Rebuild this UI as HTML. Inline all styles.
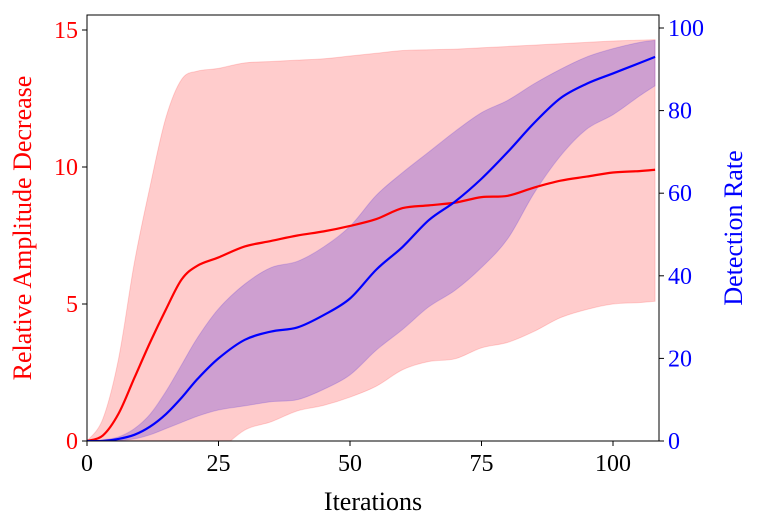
<!DOCTYPE html>
<html><head><meta charset="utf-8"><style>
html,body{margin:0;padding:0;background:#fff;}
svg{display:block;font-family:"Liberation Serif","DejaVu Serif",serif;}
</style></head><body>
<svg id="chart" width="761" height="528" viewBox="0 0 761 528"></svg>
<script>
const xs = [0,3,6,9,12,15,18,21,25,30,35,40,45,50,55,60,65,70,75,80,85,90,95,100,105,108];
const redMean = [0,0.2,1,2.3,3.6,4.8,5.9,6.4,6.7,7.1,7.3,7.5,7.65,7.85,8.1,8.5,8.6,8.7,8.9,8.95,9.25,9.5,9.65,9.8,9.85,9.9];
const redUpper = [0,0.8,3,6.5,9.3,11.8,13.2,13.5,13.6,13.8,13.85,13.9,13.95,14.05,14.15,14.25,14.28,14.3,14.35,14.4,14.45,14.5,14.55,14.6,14.63,14.65];
const redLower = [0,-0.3,-0.8,-1.2,-1.5,-1.6,-1.5,-1.2,-0.4,0.4,0.7,1.1,1.3,1.6,2.0,2.6,2.9,3.0,3.4,3.6,4.0,4.5,4.8,5.0,5.05,5.1];
const blueMean = [0,0,0.5,1.5,3.5,6.5,10.5,15,20,24.5,26.5,27.5,30.5,34.5,41.5,47,53.5,58,63.5,70,77,83,86.5,89,91.5,93];
const blueUpper = [0,0.3,1,3,6.5,12,18.5,25,32,38,42,43.5,47,52,59.5,65,70,75,79.5,82.5,86.5,90,93,95,96.5,97];
const blueLower = [0,0,0.1,0.5,1.5,3,4.5,6,7.5,8.5,9.5,10,12.5,16,22,27,32.5,36.5,42,49,60,69,75.5,79,83.5,86];
const xTicks = [0,25,50,75,100];
const yLTicks = [0,5,10,15];
const yRTicks = [0,20,40,60,80,100];

const L=87,R=659,T=15,B=441;
const X=v=>L+v*(613-87)/100;
const YL=v=>B-v*(441-30)/15;
const YR=v=>B-v*(441-28)/100;
const NS='http://www.w3.org/2000/svg';
const svg=document.getElementById('chart');
function mk(tag,attrs,parent){const e=document.createElementNS(NS,tag);for(const k in attrs)e.setAttribute(k,attrs[k]);(parent||svg).appendChild(e);return e;}
function curve(pts){let d='M'+pts[0][0]+','+pts[0][1];for(let i=0;i<pts.length-1;i++){const p0=pts[i-1]||pts[i],p1=pts[i],p2=pts[i+1],p3=pts[i+2]||p2;d+=' C'+(p1[0]+(p2[0]-p0[0])/6)+','+(p1[1]+(p2[1]-p0[1])/6)+' '+(p2[0]-(p3[0]-p1[0])/6)+','+(p2[1]-(p3[1]-p1[1])/6)+' '+p2[0]+','+p2[1];}return d;}
function band(up,lo,Y){const a=xs.map((x,i)=>[X(x),Y(up[i])]);const b=xs.map((x,i)=>[X(x),Y(lo[i])]).reverse();return curve(a)+' L'+b[0][0]+','+b[0][1]+curve(b).replace(/^M[^ ]+/,'')+' Z';}
const defs=mk('defs',{});const cp=mk('clipPath',{id:'clip'},defs);mk('rect',{x:L,y:T,width:R-L,height:B-T},cp);
const g=mk('g',{'clip-path':'url(#clip)'});
let e;
e=mk('path',{d:band(redUpper,redLower,YL),fill:'#ff0000','fill-opacity':0.2,stroke:'#ff0000','stroke-opacity':0.15},g);

e=mk('path',{d:band(blueUpper,blueLower,YR),fill:'#2000e0','fill-opacity':0.22,stroke:'#2000e0','stroke-opacity':0.15},g);

e=mk('path',{d:curve(xs.map((x,i)=>[X(x),YL(redMean[i])])),fill:'none',stroke:'#ff0000','stroke-width':2.2},g);

e=mk('path',{d:curve(xs.map((x,i)=>[X(x),YR(blueMean[i])])),fill:'none',stroke:'#0000ff','stroke-width':2.2},g);

e=mk('rect',{x:L,y:T,width:R-L,height:B-T,fill:'none',stroke:'#000','stroke-width':1});

xTicks.forEach(t=>{mk('line',{x1:X(t),x2:X(t),y1:B,y2:B+5,stroke:'#000'});e=mk('text',{x:X(t),y:B+30,'text-anchor':'middle','font-size':24});e.textContent=t;
});
yLTicks.forEach(t=>{mk('line',{x1:L-5,x2:L,y1:YL(t),y2:YL(t),stroke:'#000'});e=mk('text',{x:L-9,y:YL(t)+8,'text-anchor':'end','font-size':24,fill:'#ff0000'});e.textContent=t;
});
yRTicks.forEach(t=>{mk('line',{x1:R,x2:R+5,y1:YR(t),y2:YR(t),stroke:'#000'});e=mk('text',{x:R+9,y:YR(t)+8,'text-anchor':'start','font-size':24,fill:'#0000ff'});e.textContent=t;
});
e=mk('text',{x:373,y:510,'text-anchor':'middle','font-size':26});e.textContent='Iterations';

e=mk('text',{x:0,y:0,'text-anchor':'middle','font-size':26,fill:'#ff0000',transform:'translate(31,228) rotate(-90)'});e.textContent='Relative Amplitude Decrease';

e=mk('text',{x:0,y:0,'text-anchor':'middle','font-size':26,fill:'#0000ff',transform:'translate(742,228) rotate(-90)'});e.textContent='Detection Rate';

</script>
</body></html>
